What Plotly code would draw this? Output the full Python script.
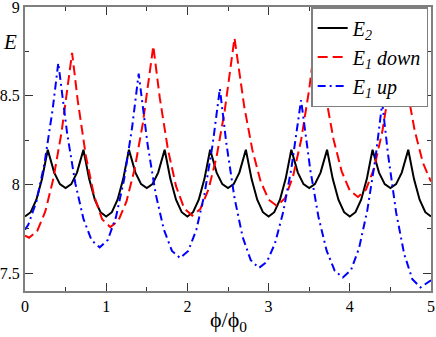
import plotly.graph_objects as go

# E2 (black, solid)
e2_x = [0.00, 0.07, 0.14, 0.21, 0.28, 0.36, 0.43, 0.50, 0.57, 0.64, 0.72, 0.79, 0.86, 0.93,
        1.00, 1.07, 1.14, 1.21, 1.28, 1.36, 1.43, 1.50, 1.57, 1.64, 1.72, 1.79, 1.86, 1.93,
        2.00, 2.07, 2.14, 2.21, 2.28, 2.36, 2.43, 2.50, 2.57, 2.64, 2.72, 2.79, 2.86, 2.93,
        3.00, 3.07, 3.14, 3.21, 3.28, 3.36, 3.43, 3.50, 3.57, 3.64, 3.72, 3.79, 3.86, 3.93,
        4.00, 4.07, 4.14, 4.21, 4.28, 4.36, 4.43, 4.50, 4.57, 4.64, 4.72, 4.79, 4.86, 4.93,
        5.00]
e2_y = [7.820, 7.844, 7.914, 8.032, 8.196, 8.067, 8.002, 7.980, 8.002, 8.067, 8.196, 8.032, 7.914, 7.844,
        7.820, 7.844, 7.914, 8.032, 8.196, 8.067, 8.002, 7.980, 8.002, 8.067, 8.196, 8.032, 7.914, 7.844,
        7.820, 7.844, 7.914, 8.032, 8.196, 8.067, 8.002, 7.980, 8.002, 8.067, 8.196, 8.032, 7.914, 7.844,
        7.820, 7.844, 7.914, 8.032, 8.196, 8.067, 8.002, 7.980, 8.002, 8.067, 8.196, 8.032, 7.914, 7.844,
        7.820, 7.844, 7.914, 8.032, 8.196, 8.067, 8.002, 7.980, 8.002, 8.067, 8.196, 8.032, 7.914, 7.844,
        7.820]

# E1 down (red, dashed)
down_x = [0.00, 0.05, 0.15, 0.25, 0.35, 0.45, 0.58,
          0.65, 0.75, 0.85, 0.95, 1.05, 1.15, 1.25, 1.35, 1.45, 1.58,
          1.66, 1.76, 1.86, 1.96, 2.06, 2.16, 2.26, 2.36, 2.46, 2.58,
          2.70, 2.80, 2.90, 3.00, 3.10, 3.20, 3.30, 3.40, 3.50, 3.59,
          3.70, 3.80, 3.90, 4.00, 4.10, 4.20, 4.30, 4.40, 4.50, 4.59,
          4.70, 4.80, 4.90, 5.00]
down_y = [7.712, 7.700, 7.737, 7.848, 8.034, 8.294, 8.742,
          8.471, 8.160, 7.938, 7.804, 7.760, 7.796, 7.905, 8.087, 8.341, 8.780,
          8.488, 8.198, 7.991, 7.866, 7.825, 7.862, 7.973, 8.158, 8.417, 8.825,
          8.439, 8.195, 8.020, 7.915, 7.880, 7.921, 8.044, 8.249, 8.536, 8.865,
          8.505, 8.254, 8.074, 7.966, 7.930, 7.971, 8.093, 8.297, 8.583, 8.910,
          8.552, 8.302, 8.123, 8.016]

# E1 up (blue, dash-dot)
up_x = [0.00, 0.04, 0.14, 0.24, 0.34, 0.41,
        0.52, 0.62, 0.72, 0.82, 0.92, 1.02, 1.12, 1.22, 1.32, 1.40,
        1.51, 1.61, 1.71, 1.81, 1.91, 2.01, 2.11, 2.21, 2.31, 2.40,
        2.48, 2.58, 2.68, 2.78, 2.88, 2.98, 3.08, 3.18, 3.28, 3.40,
        3.515, 3.615, 3.715, 3.815, 3.915, 4.015, 4.115, 4.215, 4.315, 4.40,
        4.47, 4.57, 4.67, 4.77, 4.87, 5.00]
up_y = [7.746, 7.773, 7.903, 8.119, 8.422, 8.685,
        8.285, 8.006, 7.806, 7.686, 7.646, 7.688, 7.816, 8.028, 8.324, 8.625,
        8.225, 7.946, 7.746, 7.626, 7.586, 7.626, 7.745, 7.945, 8.222, 8.540,
        8.231, 7.925, 7.705, 7.574, 7.530, 7.565, 7.670, 7.845, 8.089, 8.475,
        8.079, 7.815, 7.627, 7.514, 7.476, 7.518, 7.643, 7.853, 8.145, 8.460,
        8.173, 7.844, 7.608, 7.467, 7.420, 7.460]

SERIF = "Liberation Serif"
FRAME = "#7f7f7f"

fig = go.Figure()
fig.add_trace(go.Scatter(x=e2_x, y=e2_y, mode="lines", name="<i>E<sub>2</sub></i>",
                         line=dict(color="black", width=2)))
fig.add_trace(go.Scatter(x=down_x, y=down_y, mode="lines", name="<i>E<sub>1</sub> down</i>",
                         line=dict(color="#ff0000", width=2, dash="10px,5px")))
fig.add_trace(go.Scatter(x=up_x, y=up_y, mode="lines", name="<i>E<sub>1</sub> up</i>",
                         line=dict(color="#0000ff", width=2, dash="8px,4px,2px,4px")))

axis_common = dict(
    showline=True, linecolor=FRAME, linewidth=2, mirror="ticks",
    ticks="inside", ticklen=8, tickwidth=1, tickcolor="#333333",
    showgrid=False, zeroline=False, automargin=False,
    ticklabeloverflow="allow",
    tickfont=dict(family=SERIF, size=16, color="black"),
)

fig.update_layout(
    width=436, height=337,
    margin=dict(l=25, r=5, t=7, b=46),
    paper_bgcolor="white", plot_bgcolor="white",
    font=dict(family=SERIF, color="black"),
    xaxis=dict(range=[0, 5.0001], dtick=1, tick0=0,
               minor=dict(ticks="inside", dtick=0.5, ticklen=4, tickcolor="#333333"),
               **axis_common),
    yaxis=dict(range=[7.4, 9.0001], dtick=0.5, tick0=7.5,
               minor=dict(ticks="inside", dtick=0.25, ticklen=4, tickcolor="#333333"),
               **axis_common),
    legend=dict(x=0.993, y=1.0, xanchor="right", yanchor="top",
                bgcolor="white", bordercolor=FRAME, borderwidth=1.5,
                font=dict(family=SERIF, size=20, color="black"),
                tracegroupgap=0, itemwidth=30),
    showlegend=True,
    annotations=[
        dict(text="<i>E</i>", xref="paper", yref="paper", x=-0.037, y=0.877,
             xanchor="center", yanchor="middle", showarrow=False,
             font=dict(family=SERIF, size=21, color="black")),
        dict(text="\u03d5/\u03d5<sub>0</sub>", xref="paper", yref="paper", x=0.5, y=-0.105,
             xanchor="center", yanchor="middle", showarrow=False,
             font=dict(family=SERIF, size=22, color="black")),
    ],
)

# drop the browser's default 8px body margin so the figure fills the window
fig.write_html("out.html", config={"displayModeBar": False},
               post_script="document.body.style.margin='0';")
